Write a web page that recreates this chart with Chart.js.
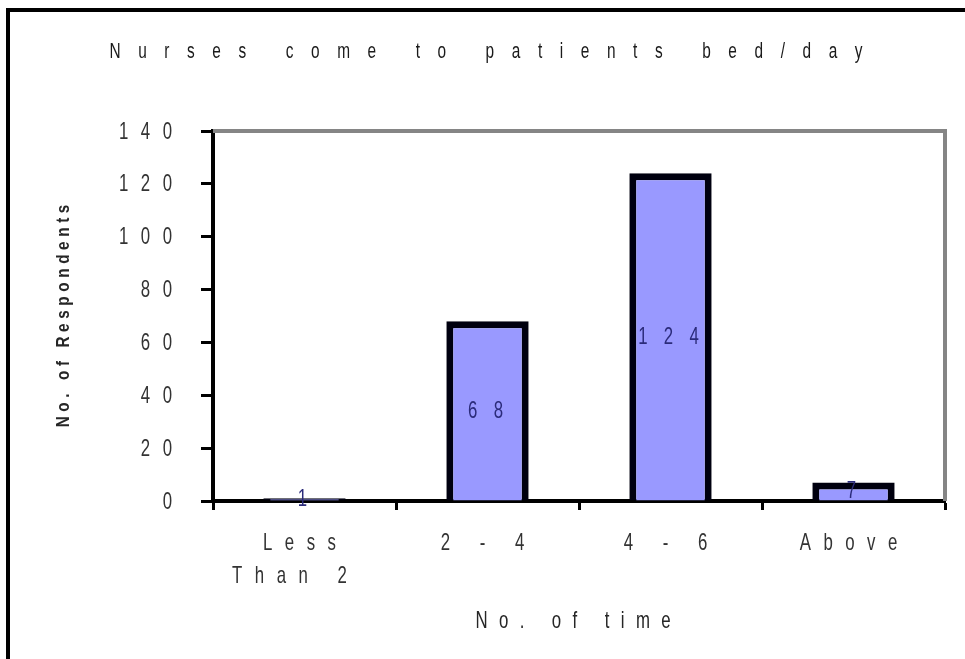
<!DOCTYPE html>
<html>
<head>
<meta charset="utf-8">
<title>Nurses come to patients bed/day</title>
<style>
  html, body { margin: 0; padding: 0; background: #ffffff; overflow: hidden; }
  #wrap { position: absolute; left: 0; top: 0; width: 965px; height: 659px; }
</style>
<script src="https://cdn.jsdelivr.net/npm/chart.js@4"></script>
</head>
<body>
<div id="wrap"><canvas id="chart" width="965" height="659"></canvas></div>
<script>
// ---- data ----
const chartTitle = 'Nurses come to patients bed/day';
const categories = [['Less', 'Than 2'], '2 - 4', '4 - 6', 'Above'];
const respondents = [1, 68, 124, 7];
const yTickValues = [0, 20, 40, 60, 80, 100, 120, 140];
const xAxisTitle = 'No. of time';
const yAxisTitle = 'No. of Respondents';

// ---- text style: tall, horizontally squeezed, widely tracked ----
const FONT = "'Liberation Sans', Arial, sans-serif";

function drawText(ctx, text, x, y, o) {
  const size = o.size, sx = o.sx, gap = o.gap;
  ctx.save();
  ctx.font = (o.weight || 'normal') + ' ' + size + 'px ' + FONT;
  ctx.letterSpacing = '0px';
  const natural = ctx.measureText(text).width;
  const n = Array.from(text).length;
  const w = natural * sx + gap * (n - 1);
  const x0 = o.align === 'center' ? x - w / 2 : o.align === 'right' ? x - w : x;
  ctx.translate(x0, y);
  ctx.scale(sx, 1);
  ctx.letterSpacing = (gap / sx) + 'px';
  ctx.textAlign = 'left';
  ctx.textBaseline = o.baseline || 'alphabetic';
  ctx.fillStyle = o.color;
  ctx.fillText(text, 0, 0);
  ctx.restore();
}

const TICK_STYLE = { size: 24, sx: 0.7, gap: 12.5, color: '#333333', baseline: 'middle' };

const framePlugin = {
  id: 'frame',
  beforeDraw(chart) {
    const ctx = chart.ctx;
    ctx.save();
    ctx.fillStyle = '#ffffff';
    ctx.fillRect(0, 0, chart.width, chart.height);
    // outer frame (left and top edges)
    ctx.strokeStyle = '#000000';
    ctx.lineWidth = 4;
    ctx.beginPath();
    ctx.moveTo(8, chart.height);
    ctx.lineTo(8, 10);
    ctx.lineTo(chart.width, 10);
    ctx.stroke();
    ctx.restore();
  },
  afterDraw(chart) {
    const ctx = chart.ctx;
    const a = chart.chartArea;
    const xs = chart.scales.x, ys = chart.scales.y;
    ctx.save();
    // grey plot-area frame on top and right
    ctx.strokeStyle = '#858585';
    ctx.lineWidth = 4;
    ctx.beginPath();
    ctx.moveTo(a.left, a.top);
    ctx.lineTo(a.right, a.top);
    ctx.lineTo(a.right, a.bottom);
    ctx.stroke();
    ctx.restore();

    // y tick labels
    yTickValues.forEach(v => {
      drawText(ctx, String(v), a.left - 41, ys.getPixelForValue(v) + 1, Object.assign({ align: 'right' }, TICK_STYLE));
    });

    // category labels (one or two lines)
    categories.forEach((c, i) => {
      const lines = Array.isArray(c) ? c : [c];
      const cx = xs.getPixelForValue(i);
      lines.forEach((line, k) => {
        drawText(ctx, line, cx - 5 - k * 10, a.bottom + 42 + k * 33, Object.assign({ align: 'center' }, TICK_STYLE));
      });
    });

    // chart title
    drawText(ctx, chartTitle, 486, 58, { size: 22, sx: 0.7, gap: 17.6, color: '#1a1a1a', align: 'center' });

    // x axis title
    drawText(ctx, xAxisTitle, 573, 628, { size: 24, sx: 0.7, gap: 11.4, color: '#262626', align: 'center' });

    // y axis title (rotated)
    ctx.save();
    ctx.translate(69, (a.top + a.bottom) / 2);
    ctx.rotate(-Math.PI / 2);
    drawText(ctx, yAxisTitle, 0, 0, { size: 18, weight: 'bold', sx: 0.85, gap: 4.6, color: '#262626', align: 'center' });
    ctx.restore();

    // value labels centred inside each bar
    const meta = chart.getDatasetMeta(0);
    meta.data.forEach((bar, i) => {
      const yMid = (bar.y + bar.base) / 2;
      drawText(ctx, String(respondents[i]), bar.x - 2, yMid, { size: 24, sx: 0.7, gap: 16.3, color: '#2b2b7a', align: 'center', baseline: 'middle' });
    });
  }
};

new Chart(document.getElementById('chart'), {
  type: 'bar',
  data: {
    labels: categories,
    datasets: [{
      data: respondents,
      backgroundColor: '#9999ff',
      borderColor: '#00000f',
      borderWidth: 7,
      borderSkipped: 'start',
      categoryPercentage: 1,
      barPercentage: 0.45
    }]
  },
  options: {
    responsive: false,
    animation: false,
    devicePixelRatio: 1,
    layout: { padding: { left: 0, top: 131, right: 20, bottom: 0 } },
    plugins: {
      legend: { display: false },
      title: { display: false },
      tooltip: { enabled: false }
    },
    scales: {
      x: {
        grid: {
          display: true,
          offset: true,
          drawOnChartArea: false,
          drawTicks: true,
          tickLength: 9,
          tickWidth: 3,
          tickColor: '#000000'
        },
        border: { display: true, color: '#000000', width: 4 },
        ticks: { display: false, autoSkip: false, maxRotation: 0 },
        afterFit(scale) { scale.height = 659 - 501; }
      },
      y: {
        min: 0,
        max: 140,
        afterBuildTicks(scale) { scale.ticks = yTickValues.map(v => ({ value: v })); },
        grid: {
          display: true,
          drawOnChartArea: false,
          drawTicks: true,
          tickLength: 12,
          tickWidth: 3,
          tickColor: '#000000'
        },
        border: { display: true, color: '#000000', width: 4 },
        ticks: { display: false },
        afterFit(scale) { scale.width = 213; }
      }
    }
  },
  plugins: [framePlugin]
});
</script>
</body>
</html>
